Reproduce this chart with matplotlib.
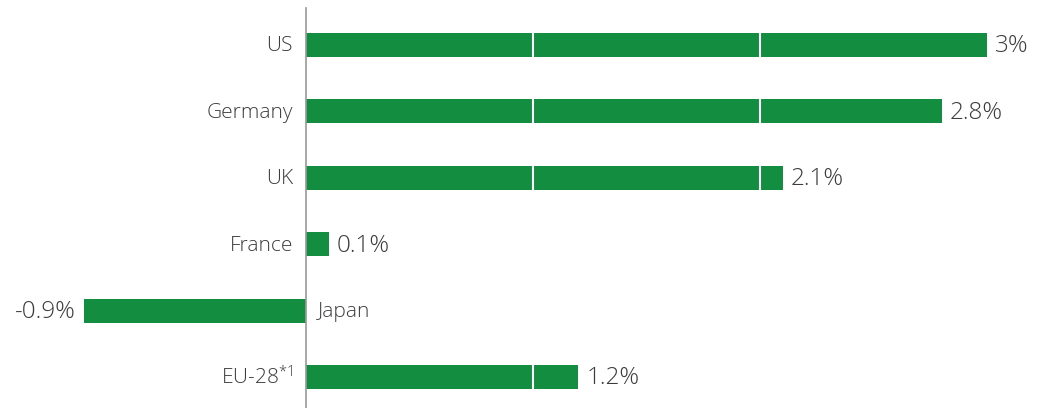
import numpy as np
import matplotlib.pyplot as plt

plt.rcParams['font.family'] = ['Open Sans', 'DejaVu Sans']
plt.rcParams['font.weight'] = 'light'
plt.rcParams['mathtext.fontset'] = 'custom'
plt.rcParams['mathtext.rm'] = 'Open Sans:light'
plt.rcParams['mathtext.it'] = 'Open Sans:light'

countries = ['US', 'Germany', 'UK', 'France', 'Japan', 'EU-28$^{*1}$']
growth = [3.0, 2.8, 2.1, 0.1, -0.98, 1.2]
value_labels = ['3%', '2.8%', '2.1%', '0.1%', '-0.9%', '1.2%']

green = '#138d3f'
grey = '#3c3c3c'

fig = plt.figure(figsize=(10.45, 4.08), dpi=100)
ax = fig.add_axes([0, 0, 1, 1])

y = np.arange(len(countries))
ax.barh(y, growth, height=0.36, color=green, zorder=2)

# white gridlines across the bars
for gx in [1, 2]:
    ax.axvline(gx, color='white', lw=1.5, zorder=3)

ax.axvline(0, ymin=0, ymax=0.98, color='#9a9a9a', lw=1.2, zorder=4)

dx = 8 / 227
for i, (v, lab, c) in enumerate(zip(growth, value_labels, countries)):
    if v >= 0:
        ax.text(v + dx, i + 0.02, lab, ha='left', va='center', fontsize=17.5, color=grey)
        ax.text(-13 / 227, i + 0.02, c, ha='right', va='center', fontsize=15, color=grey)
    else:
        ax.text(v - dx, i + 0.02, lab, ha='right', va='center', fontsize=17.5, color=grey)
        ax.text(12 / 227, i + 0.02, c, ha='left', va='center', fontsize=15, color=grey)

ax.set_xlim(-306 / 227, 739 / 227)
ax.set_ylim(5.467, -0.678)
ax.axis('off')

fig.savefig('out.png', dpi=100)
